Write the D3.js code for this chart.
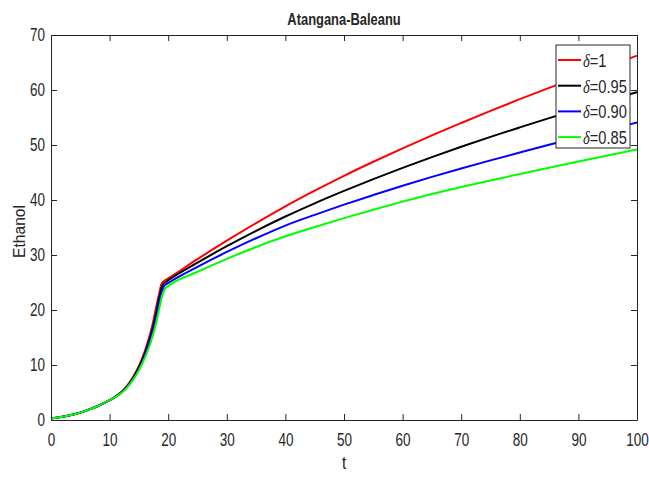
<!DOCTYPE html>
<html>
<head>
<meta charset="utf-8">
<script src="https://cdn.jsdelivr.net/npm/d3@7"></script>
<style>
  html, body { margin: 0; padding: 0; background: #fff; }
  svg { display: block; }
  text { font-family: "Liberation Sans", Arial, sans-serif; fill: #262626; }
</style>
</head>
<body>
<svg id="chart" width="649" height="477"></svg>
<script>
// Ethanol concentration over time, Atangana-Baleanu model, one curve per fractional order δ
const tRed   = [0, 2, 4, 6, 8, 10, 11, 12, 13, 14, 15, 16, 17, 17.5, 18, 18.5, 18.9, 19.4, 20, 25, 30, 35, 40, 45, 50, 55, 60, 65, 70, 75, 80, 85, 90, 95, 100];
const vRed   = [0.3, 0.6, 1.05, 1.7, 2.55, 3.6, 4.25, 5.1, 6.25, 7.8, 9.85, 12.5, 16.0, 18.2, 20.8, 23.2, 24.85, 25.35, 25.75, 29.25, 32.6, 35.8, 38.85, 41.7, 44.4, 46.95, 49.4, 51.75, 54.0, 56.2, 58.33, 60.38, 62.38, 64.33, 66.25];

const tBlack = [0, 2, 4, 6, 8, 10, 11, 12, 13, 14, 15, 16, 17, 17.5, 18, 18.5, 19.1, 19.6, 20, 25, 30, 35, 40, 45, 50, 55, 60, 65, 70, 75, 80, 85, 90, 95, 100];
const vBlack = [0.3, 0.6, 1.05, 1.7, 2.55, 3.6, 4.22, 5.03, 6.13, 7.6, 9.55, 12.05, 15.3, 17.3, 19.8, 22.4, 24.65, 25.1, 25.4, 28.6, 31.6, 34.4, 37.0, 39.4, 41.65, 43.8, 45.85, 47.8, 49.68, 51.48, 53.2, 54.88, 56.5, 58.08, 59.6];

const tBlue  = [0, 2, 4, 6, 8, 10, 11, 12, 13, 14, 15, 16, 17, 17.5, 18, 18.5, 19.0, 19.3, 19.8, 20, 25, 30, 35, 40, 45, 50, 55, 60, 65, 70, 75, 80, 85, 90, 95, 100];
const vBlue  = [0.3, 0.6, 1.05, 1.7, 2.55, 3.6, 4.2, 4.97, 6.03, 7.45, 9.3, 11.7, 14.8, 16.7, 19.0, 21.6, 23.6, 24.35, 24.78, 24.92, 27.85, 30.55, 33.05, 35.35, 37.3, 39.15, 40.9, 42.6, 44.2, 45.73, 47.2, 48.63, 50.03, 51.4, 52.75, 54.08];

const tGreen = [0, 2, 4, 6, 8, 10, 11, 12, 13, 14, 15, 16, 17, 17.5, 18, 18.5, 19.0, 19.5, 20, 25, 30, 35, 40, 45, 50, 55, 60, 65, 70, 75, 80, 85, 90, 95, 100];
const vGreen = [0.3, 0.6, 1.05, 1.7, 2.55, 3.6, 4.17, 4.9, 5.93, 7.3, 9.05, 11.25, 14.1, 15.85, 17.9, 20.4, 22.7, 23.9, 24.35, 26.95, 29.3, 31.45, 33.4, 35.1, 36.7, 38.23, 39.7, 41.1, 42.35, 43.55, 44.73, 45.88, 47.0, 48.1, 49.18];

const seriesLabels = ["1", "0.95", "0.90", "0.85"];
const seriesColors = ["#ff0000", "#000000", "#0000ff", "#00ff00"];
const xTicks = [0, 10, 20, 30, 40, 50, 60, 70, 80, 90, 100];
const yTicks = [0, 10, 20, 30, 40, 50, 60, 70];

const series = [
  { t: tRed,   v: vRed },
  { t: tBlack, v: vBlack },
  { t: tBlue,  v: vBlue },
  { t: tGreen, v: vGreen }
].map((s, i) => ({ ...s, label: seriesLabels[i], color: seriesColors[i] }));

const svg = d3.select("#chart");
const margin = { left: 51, right: 12, top: 35, bottom: 57 };
const W = 649, H = 477;
const x = d3.scaleLinear().domain([0, 100]).range([margin.left, W - margin.right]);
const y = d3.scaleLinear().domain([0, 70]).range([H - margin.bottom, margin.top]);

const axisColor = "#262626";
const tickLen = 6;
const narrow = 0.75;   // horizontal squeeze for the narrow Helvetica-like glyphs

// curves
const line = d3.line().x(d => x(d[0])).y(d => y(d[1])).curve(d3.curveMonotoneX);
const plot = svg.append("g");
series.forEach(s => {
  plot.append("path")
    .datum(s.t.map((t, i) => [t, s.v[i]]))
    .attr("fill", "none")
    .attr("stroke", s.color)
    .attr("stroke-width", 2)
    .attr("stroke-linejoin", "round")
    .attr("d", line);
});

// box axes with inward ticks
function styleAxis(g) {
  g.select(".domain").attr("stroke", axisColor).attr("stroke-width", 1);
  g.selectAll(".tick line").attr("stroke", axisColor).attr("stroke-width", 1);
  g.selectAll(".tick text").attr("fill", axisColor).style("font-size", "18px")
    .attr("font-family", "'Liberation Sans', Arial, sans-serif");
}

const gx = svg.append("g").attr("transform", `translate(0,${y(0)})`)
  .call(d3.axisBottom(x).tickValues(xTicks).tickFormat(d3.format("d"))
    .tickSizeInner(-tickLen).tickSizeOuter(0).tickPadding(13));
styleAxis(gx);
gx.selectAll(".tick text").attr("transform", `scale(${narrow},1)`);

const gxTop = svg.append("g").attr("transform", `translate(0,${y(70)})`)
  .call(d3.axisTop(x).tickValues(xTicks).tickFormat("")
    .tickSizeInner(-tickLen).tickSizeOuter(0));
styleAxis(gxTop);

const yPad = 6;
const gy = svg.append("g").attr("transform", `translate(${x(0)},0)`)
  .call(d3.axisLeft(y).tickValues(yTicks).tickFormat(d3.format("d"))
    .tickSizeInner(-tickLen).tickSizeOuter(0).tickPadding(yPad));
styleAxis(gy);
gy.selectAll(".tick text")
  .attr("x", -yPad / narrow)
  .attr("transform", `scale(${narrow},1)`);

const gyRight = svg.append("g").attr("transform", `translate(${x(100)},0)`)
  .call(d3.axisRight(y).tickValues(yTicks).tickFormat("")
    .tickSizeInner(-tickLen).tickSizeOuter(0));
styleAxis(gyRight);

// title and axis labels
svg.append("g")
  .attr("transform", `translate(${(x(0) + x(100)) / 2},25) scale(0.76,1)`)
  .append("text")
  .attr("text-anchor", "middle")
  .style("font-size", "17px").style("font-weight", "bold")
  .attr("fill", "#000")
  .text("Atangana-Baleanu");

svg.append("g")
  .attr("transform", `translate(${(x(0) + x(100)) / 2},469) scale(0.85,1)`)
  .append("text")
  .attr("text-anchor", "middle")
  .style("font-size", "18px")
  .text("t");

svg.append("g")
  .attr("transform", `translate(25,${(y(0) + y(70)) / 2 + 4}) rotate(-90) scale(0.92,1)`)
  .append("text")
  .attr("text-anchor", "middle")
  .style("font-size", "17px")
  .text("Ethanol");

// legend
const legend = svg.append("g");
const lgX0 = 556, lgY0 = 45, lgW = 74, lgH = 103;
legend.append("rect")
  .attr("x", lgX0).attr("y", lgY0).attr("width", lgW).attr("height", lgH)
  .attr("fill", "#fff").attr("stroke", axisColor).attr("stroke-width", 1);
series.forEach((s, i) => {
  const cy = 60 + i * 25.7;
  legend.append("line")
    .attr("x1", lgX0 + 2).attr("x2", lgX0 + 25)
    .attr("y1", cy).attr("y2", cy)
    .attr("stroke", s.color).attr("stroke-width", 2);
  const txt = legend.append("g")
    .attr("transform", `translate(${lgX0 + 27},${cy + 7}) scale(0.77,1)`)
    .append("text")
    .style("font-size", "19px").attr("fill", "#000");
  txt.append("tspan")
    .attr("font-family", "'Liberation Serif', 'Times New Roman', serif")
    .attr("font-style", "italic")
    .text("δ");
  txt.append("tspan").text("=" + s.label);
});
</script>
</body>
</html>
